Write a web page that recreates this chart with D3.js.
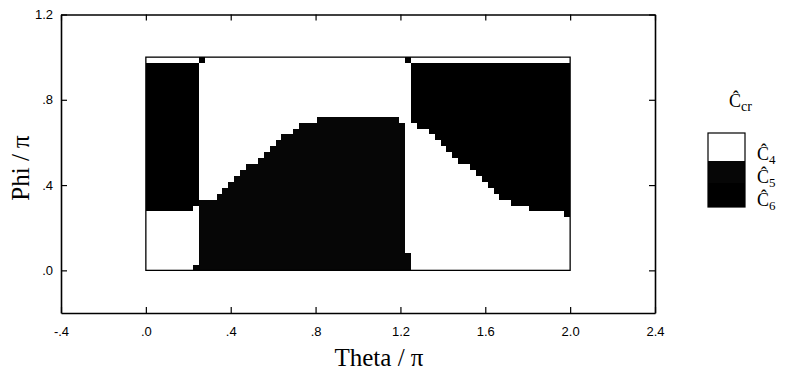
<!DOCTYPE html>
<html>
<head>
<meta charset="utf-8">
<script src="https://cdn.jsdelivr.net/npm/d3@7"></script>
<style>
  body { margin: 0; background: #fff; }
  .tick text { font-family: "Liberation Sans", Arial, sans-serif; font-size: 13px; fill: #000; }
  .lab { font-family: "Liberation Serif", "Times New Roman", serif; fill: #000; }
</style>
</head>
<body>
<script>
// map of the critical C on a 5 degree grid: theta 0..2 pi (72 columns), phi 0..pi (36 rows)
var cellStep = 1 / 36;

// per column: rows [0,c5Top) are C5, [c5Top,c4Top) C4, [c4Top,c6Top) C6, the rest C4
var c5Top = [0, 0, 0, 0, 0, 0, 0, 0, 1,
    12, 12, 12, 13, 14, 15, 16, 17, 18, 18, 19, 20, 21, 22, 23, 23, 24, 25, 25, 25,
    26, 26, 26, 26, 26, 26, 26, 26, 26, 26, 26, 26, 26, 26, 25,
    3,
    0, 0, 0, 0, 0, 0, 0, 0, 0, 0, 0, 0, 0, 0, 0, 0, 0, 0, 0, 0, 0, 0, 0, 0, 0, 0, 0];
var c4Top = [10, 10, 10, 10, 10, 10, 10, 10, 11,
    35, 36, 36, 36, 36, 36, 36, 36, 36, 36, 36, 36, 36, 36, 36, 36, 36, 36, 36, 36,
    36, 36, 36, 36, 36, 36, 36, 36, 36, 36, 36, 36, 36, 36, 36,
    35,
    25, 24, 24, 23, 22, 21, 20, 19, 18, 18, 17, 16, 15, 14, 13, 12, 12, 11, 11, 11,
    10, 10, 10, 10, 10, 10, 9];
var c6Top = [35, 35, 35, 35, 35, 35, 35, 35, 35,
    36, 36, 36, 36, 36, 36, 36, 36, 36, 36, 36, 36, 36, 36, 36, 36, 36, 36, 36, 36,
    36, 36, 36, 36, 36, 36, 36, 36, 36, 36, 36, 36, 36, 36, 36,
    36,
    35, 35, 35, 35, 35, 35, 35, 35, 35, 35, 35, 35, 35, 35, 35, 35, 35, 35, 35, 35,
    35, 35, 35, 35, 35, 35, 35];

var classNames = ["4", "5", "6"];
var classColors = ["#ffffff", "#060606", "#000000"];
var xTicks = [-0.4, 0, 0.4, 0.8, 1.2, 1.6, 2.0, 2.4];
var yTicks = [0, 0.4, 0.8, 1.2];

var width = 787, height = 375;
var x = d3.scaleLinear().domain([-0.4, 2.4]).range([61, 655]);
var y = d3.scaleLinear().domain([-0.2, 1.2]).range([313, 14.5]);

var svg = d3.select("body").append("svg")
    .attr("width", width)
    .attr("height", height);

// build the runs of each column
var cells = [];
c5Top.forEach(function(a, i) {
    var b = c4Top[i], c = c6Top[i];
    var runs = [[0, a, 1], [a, b, 0], [b, c, 2], [c, 36, 0]];
    runs.forEach(function(r) {
        if (r[1] > r[0]) cells.push({col: i, r0: r[0], r1: r[1], cls: r[2]});
    });
});

svg.append("g").selectAll("rect")
    .data(cells)
    .enter()
    .append("rect")
    .attr("shape-rendering", "crispEdges")
    .attr("x", function(d) { return x(d.col * cellStep); })
    .attr("width", function(d) { return x((d.col + 1) * cellStep) - x(d.col * cellStep) + 0.3; })
    .attr("y", function(d) { return y(d.r1 * cellStep); })
    .attr("height", function(d) { return y(d.r0 * cellStep) - y(d.r1 * cellStep) + 0.3; })
    .attr("fill", function(d) { return classColors[d.cls]; });

// outline of the data region
svg.append("rect")
    .attr("x", x(0))
    .attr("y", y(1))
    .attr("width", x(2) - x(0))
    .attr("height", y(0) - y(1))
    .attr("fill", "none")
    .attr("stroke", "#000")
    .attr("stroke-width", 1.3);

var fmt = function(d) {
    var s = d3.format(".1f")(d);
    return s.replace(/^0\./, ".").replace(/^-0\./, "-.").replace("−0.", "-.");
};

var axes = [
    {ax: d3.axisBottom(x).tickValues(xTicks).tickFormat(fmt).tickPadding(14), t: "translate(0," + y(-0.2) + ")"},
    {ax: d3.axisTop(x).tickValues(xTicks).tickFormat(""), t: "translate(0," + y(1.2) + ")"},
    {ax: d3.axisLeft(y).tickValues(yTicks).tickFormat(fmt).tickPadding(8), t: "translate(" + x(-0.4) + ",0)"},
    {ax: d3.axisRight(y).tickValues(yTicks).tickFormat(""), t: "translate(" + x(2.4) + ",0)"}
];
axes.forEach(function(a) {
    var g = svg.append("g")
        .attr("transform", a.t)
        .call(a.ax.tickSizeInner(-6).tickSizeOuter(0));
    g.select(".domain").attr("stroke-width", 1.6);
    g.selectAll(".tick line").attr("stroke-width", 1.2);
});

// axis titles
svg.append("text")
    .attr("class", "lab")
    .attr("x", 379)
    .attr("y", 366)
    .attr("text-anchor", "middle")
    .attr("font-size", 25)
    .text("Theta / π");

svg.append("text")
    .attr("class", "lab")
    .attr("transform", "translate(29,168) rotate(-90)")
    .attr("text-anchor", "middle")
    .attr("font-size", 25)
    .text("Phi / π");

// legend
var legendTop = 133, bandH = [28, 22, 24];
var legend = svg.append("g");
var title = legend.append("text")
    .attr("class", "lab")
    .attr("x", 729)
    .attr("y", 107)
    .attr("font-size", 18);
title.append("tspan").text("Ĉ");
title.append("tspan").attr("dy", 4).attr("font-size", 14).text("cr");

var yy = legendTop;
classNames.forEach(function(n, i) {
    legend.append("rect")
        .attr("x", 708)
        .attr("y", yy)
        .attr("width", 37)
        .attr("height", bandH[i])
        .attr("fill", classColors[i]);
    var t = legend.append("text")
        .attr("class", "lab")
        .attr("x", 757)
        .attr("y", 160 + i * 23)
        .attr("font-size", 18);
    t.append("tspan").text("Ĉ");
    t.append("tspan").attr("dy", 4).attr("font-size", 13).text(n);
    yy += bandH[i];
});
legend.append("rect")
    .attr("x", 708)
    .attr("y", legendTop)
    .attr("width", 37)
    .attr("height", d3.sum(bandH))
    .attr("fill", "none")
    .attr("stroke", "#000")
    .attr("stroke-width", 1.2);
</script>
</body>
</html>
